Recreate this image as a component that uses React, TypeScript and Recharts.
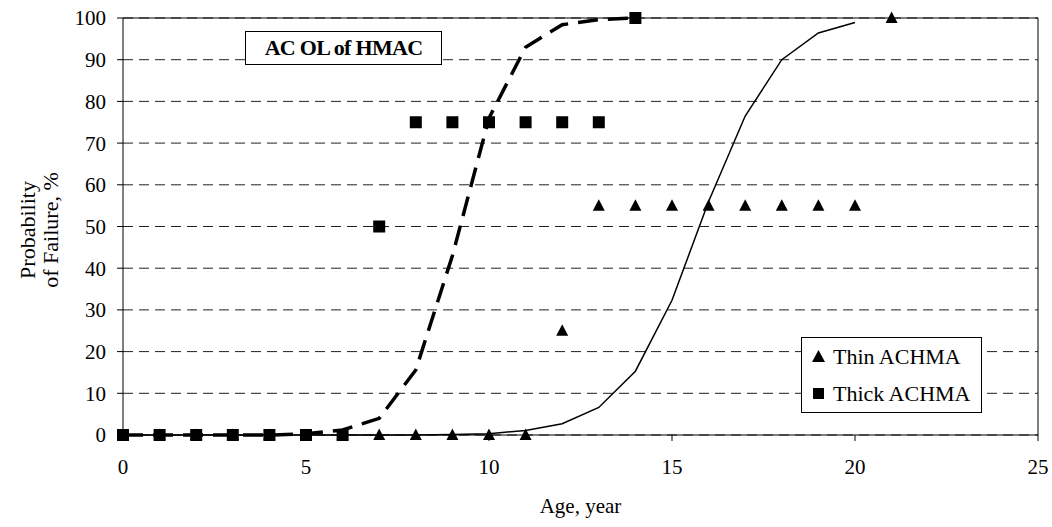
import React from "react";
import {
  ComposedChart,
  Line,
  Scatter,
  XAxis,
  YAxis,
  CartesianGrid,
  ReferenceLine,
  Legend,
} from "recharts";

// observed points
const thinAges = [0, 1, 2, 3, 4, 5, 6, 7, 8, 9, 10, 11, 12, 13, 14, 15, 16, 17, 18, 19, 20, 21];
const thinObserved = [0, 0, 0, 0, 0, 0, 0, 0, 0, 0, 0, 0, 25, 55, 55, 55, 55, 55, 55, 55, 55, 100];
const thickAges = [0, 1, 2, 3, 4, 5, 6, 7, 8, 9, 10, 11, 12, 13, 14];
const thickObserved = [0, 0, 0, 0, 0, 0, 0, 50, 75, 75, 75, 75, 75, 75, 100];

// fitted curves
const thinFitAges = [0, 1, 2, 3, 4, 5, 6, 7, 8, 9, 10, 11, 12, 13, 14, 15, 16, 17, 18, 19, 20];
const thinFit = [0, 0, 0, 0, 0, 0, 0, 0, 0, 0.1, 0.3, 1.1, 2.7, 6.6, 15.3, 32.3, 56, 76.5, 90, 96.4, 98.9];
const thickFitAges = [0, 1, 2, 3, 4, 5, 6, 7, 8, 9, 10, 11, 12, 13, 14];
const thickFit = [0, 0, 0, 0, 0, 0.3, 1.2, 4, 15.6, 43, 76, 93, 98.4, 99.6, 100];

const xTicks = [0, 5, 10, 15, 20, 25];
const yTicks = [0, 10, 20, 30, 40, 50, 60, 70, 80, 90, 100];
const seriesNames = ["Thin ACHMA", "Thick ACHMA"];

const toRows = (xs: number[], ys: number[]) => xs.map((x, i) => ({ x, y: ys[i] }));

const FONT = '"Liberation Serif", "Times New Roman", serif';

const Triangle = (props: any) => {
  const { cx, cy } = props;
  if (cx == null || cy == null) return null;
  return <polygon points={`${cx},${cy - 6.5} ${cx - 6},${cy + 5} ${cx + 6},${cy + 5}`} fill="#000" />;
};

const Square = (props: any) => {
  const { cx, cy } = props;
  if (cx == null || cy == null) return null;
  return <rect x={cx - 6} y={cy - 6} width={12} height={12} fill="#000" />;
};

const YTitle = () => (
  <g fontFamily={FONT} fontSize={22} fill="#000">
    <text transform="rotate(-90, 35, 230)" x={35} y={230} textAnchor="middle">
      Probability
    </text>
    <text transform="rotate(-90, 58, 230)" x={58} y={230} textAnchor="middle">
      of Failure, %
    </text>
  </g>
);

const LegendBox = () => (
  <div
    style={{
      width: 181,
      height: 76,
      boxSizing: "border-box",
      border: "1px solid #000",
      background: "#fff",
      fontFamily: FONT,
      fontSize: 22,
      color: "#000",
    }}
  >
    {seriesNames.map((name, i) => (
      <div key={name} style={{ display: "flex", alignItems: "center", height: 37, paddingLeft: 9 }}>
        <svg width={15} height={15} style={{ marginRight: 7 }}>
          {i === 0 ? (
            <polygon points="7.5,1 1,13 14,13" fill="#000" />
          ) : (
            <rect x={2} y={2} width={11} height={11} fill="#000" />
          )}
        </svg>
        <span>{name}</span>
      </div>
    ))}
  </div>
);

export default function App() {
  return (
    <div style={{ position: "absolute", left: 0, top: 0, width: 1052, height: 527, background: "#fff" }}>
      <ComposedChart
        width={1052}
        height={527}
        margin={{ top: 18, right: 14, left: 0, bottom: 8 }}
        style={{ fontFamily: FONT }}
      >
        <CartesianGrid vertical={false} stroke="#222" strokeDasharray="10 6" />
        <XAxis
          dataKey="x"
          type="number"
          domain={[0, 25]}
          ticks={xTicks}
          allowDuplicatedCategory={false}
          height={84}
          tickSize={6}
          tickMargin={18}
          stroke="#000"
          tick={{ fill: "#000", fontSize: 21, fontFamily: FONT }}
          label={{ value: "Age, year", position: "insideBottom", offset: 6, fill: "#000", fontSize: 21, fontFamily: FONT }}
        />
        <YAxis
          dataKey="y"
          type="number"
          domain={[0, 100]}
          ticks={yTicks}
          width={123}
          tickSize={6}
          tickMargin={11}
          stroke="#000"
          tick={{ fill: "#000", fontSize: 21, fontFamily: FONT }}
          label={<YTitle />}
        />
        <ReferenceLine y={100} stroke="#000" strokeWidth={1} />
        <ReferenceLine x={25} stroke="#000" strokeWidth={1} />
        <Legend
          layout="horizontal"
          align="center"
          verticalAlign="middle"
          wrapperStyle={{ left: 801, top: 337, width: 181, height: 76 }}
          content={() => <LegendBox />}
        />
        <Scatter
          name={seriesNames[0]}
          data={toRows(thinAges, thinObserved)}
          dataKey="y"
          shape={<Triangle />}
          isAnimationActive={false}
        />
        <Scatter
          name={seriesNames[1]}
          data={toRows(thickAges, thickObserved)}
          dataKey="y"
          shape={<Square />}
          isAnimationActive={false}
        />
        <Line
          data={toRows(thinFitAges, thinFit)}
          dataKey="y"
          type="linear"
          stroke="#000"
          strokeWidth={1.5}
          dot={false}
          legendType="none"
          isAnimationActive={false}
        />
        <Line
          data={toRows(thickFitAges, thickFit)}
          dataKey="y"
          type="linear"
          stroke="#000"
          strokeWidth={3.5}
          strokeDasharray="20 10"
          dot={false}
          legendType="none"
          isAnimationActive={false}
        />
      </ComposedChart>
      <div
        style={{
          position: "absolute",
          left: 245,
          top: 31,
          width: 197,
          height: 34,
          boxSizing: "border-box",
          border: "1.5px solid #000",
          background: "#fff",
          display: "flex",
          alignItems: "center",
          justifyContent: "center",
          fontFamily: FONT,
          fontWeight: "bold",
          fontSize: 22,
          letterSpacing: -0.7,
        }}
      >
        AC OL of HMAC
      </div>
    </div>
  );
}
